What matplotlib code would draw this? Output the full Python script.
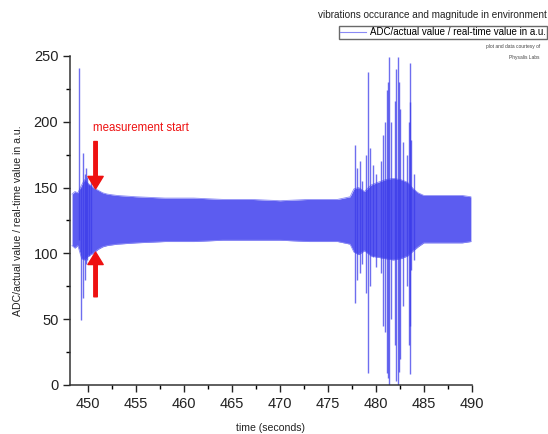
import numpy as np
import matplotlib
matplotlib.use("Agg")
import matplotlib.pyplot as plt
from matplotlib.lines import Line2D

plt.rcParams['font.family'] = ['Liberation Sans', 'DejaVu Sans']

# envelope of the steady oscillation (time, upper, lower)
band_t = [448.3, 448.6, 448.9, 449.3, 449.6, 450.0, 450.5, 451.0, 451.5, 452.0, 453.0, 455.0,
          458.0, 461.0, 464.0, 467.0, 470.0, 473.0, 476.0, 477.3, 477.7, 478.2, 478.8,
          479.5, 480.2, 481.0, 481.8, 482.6, 483.3, 483.9, 484.4, 485.0, 486.0, 487.5, 489.0, 489.9]
band_hi = [145, 147, 146, 152, 156, 153, 150, 148, 146, 145, 144, 143,
           142, 142, 141, 141, 140, 141, 141, 143, 149, 150, 147,
           152, 154, 156, 157, 156, 154, 149, 146, 144, 144, 144, 144, 143]
band_lo = [106, 104, 106, 96, 95, 98, 100, 103, 105, 106, 107, 108,
           109, 109, 110, 110, 110, 109, 109, 107, 101, 99, 102,
           98, 97, 96, 95, 96, 98, 102, 105, 108, 108, 108, 108, 109]

# single large excursions (time, max, min)
spike_t = [449.05, 449.2, 449.45, 449.6, 449.75, 449.9, 450.1, 450.3,
           477.8, 478.0, 478.3, 478.5, 479.0, 479.2, 479.4, 479.7, 480.0, 480.5, 480.7, 480.9,
           481.1, 481.3, 481.4, 481.6, 482.0, 482.1, 482.3, 482.4, 482.5, 482.8, 483.2,
           483.4, 483.5, 483.6, 483.7, 484.0]
spike_hi = [241, 150, 176, 160, 165, 158, 152, 155,
            182, 165, 170, 155, 175, 238, 180, 167, 160, 170, 190, 200,
            224, 230, 249, 200, 216, 240, 249, 230, 210, 185, 175,
            200, 245, 215, 186, 160]
spike_lo = [110, 49, 66, 80, 92, 95, 98, 100,
            62, 80, 85, 92, 70, 9, 75, 97, 90, 85, 45, 40,
            9, 5, 0, 50, 30, 3, 0, 10, 20, 60, 75,
            30, 8, 45, 87, 95]

xticks = [450, 455, 460, 465, 470, 475, 480, 485, 490]
yticks = [0, 50, 100, 150, 200, 250]

fig = plt.figure(figsize=(5.48, 4.34), dpi=100)
ax = fig.add_axes([0.128, 0.113, 0.733, 0.758])

blue = '#3d3dea'
ax.fill_between(band_t, band_lo, band_hi, color='#5c5cf0', lw=0)
ax.plot(band_t, band_hi, color='#8a8af5', lw=0.6)
ax.plot(band_t, band_lo, color='#8a8af5', lw=0.6)
ax.vlines(spike_t, spike_lo, spike_hi, color=blue, lw=1.0, alpha=0.75)

ax.set_xlim(448.1, 490)
ax.set_ylim(0, 250)
ax.set_xticks(xticks)
ax.set_yticks(yticks)
ax.set_xticks(np.arange(452.5, 490, 5), minor=True)
ax.set_yticks(np.arange(25, 250, 50), minor=True)
ax.tick_params(direction='out', length=5, width=1, labelsize=10.5, colors='#222222')
ax.tick_params(which='minor', direction='out', length=3, width=1)
for s in ['top', 'right']:
    ax.spines[s].set_visible(False)
for s in ['left', 'bottom']:
    ax.spines[s].set_linewidth(1.1)
    ax.spines[s].set_color('#333333')

ax.set_xlabel('time (seconds)', fontsize=7.6, labelpad=9, color='#222222')
ax.set_ylabel('ADC/actual value / real-time value in a.u.', fontsize=7.6, labelpad=8, color='#222222')

# annotation
red = '#ee1111'
ax.text(450.5, 195, 'measurement start', color=red, fontsize=8.3, va='center')
ax.annotate('', xy=(450.75, 149), xytext=(450.75, 185),
            arrowprops=dict(facecolor=red, edgecolor=red, width=2.5, headwidth=11, headlength=9))
ax.annotate('', xy=(450.75, 101), xytext=(450.75, 67),
            arrowprops=dict(facecolor=red, edgecolor=red, width=2.5, headwidth=11, headlength=9))

fig.text(0.998, 0.965, 'vibrations occurance and magnitude in environment',
         ha='right', va='center', fontsize=7.2, color='#222222')
h = Line2D([], [], color='#8a8af5', lw=0.8)
fig.legend([h], ['ADC/actual value / real-time value in a.u.'], loc='upper right',
           bbox_to_anchor=(0.998, 0.94), fontsize=7, frameon=True, fancybox=False,
           edgecolor='#444444', borderpad=0.15, handlelength=2.6, handletextpad=0.4,
           borderaxespad=0)
fig.text(0.985, 0.893, 'plot and data courtesy of', ha='right', va='center', fontsize=3.5, color='#444444')
fig.text(0.985, 0.868, 'Physalis Labs', ha='right', va='center', fontsize=3.5, color='#444444')

fig.savefig('out.png', dpi=100)
